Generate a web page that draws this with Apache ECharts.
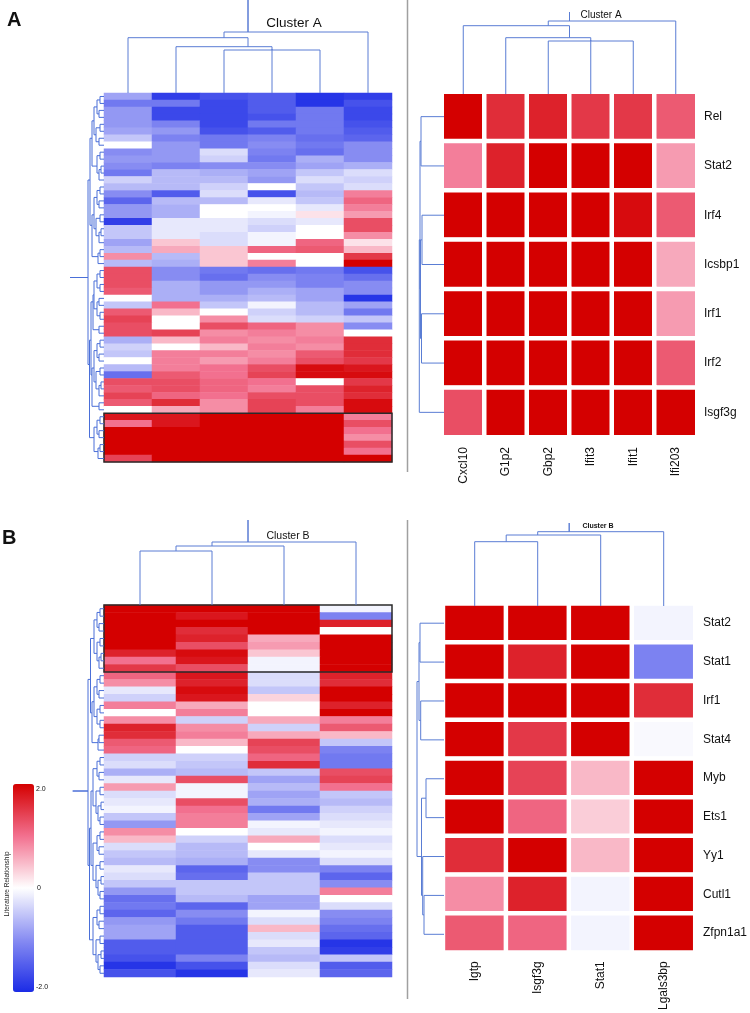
<!DOCTYPE html>
<html><head><meta charset="utf-8">
<script src="https://cdn.jsdelivr.net/npm/echarts@6/dist/echarts.min.js"></script>
<style>html,body{margin:0;padding:0;background:#fff}#c{width:750px;height:1013px}</style>
</head><body><div id="c"></div>
<script>
// ---------- DATA ----------
const aRightCols = ['Cxcl10','G1p2','Gbp2','Ifit3','Ifit1','Ifi203'];
const aRightRows = ['Rel','Stat2','Irf4','Icsbp1','Irf1','Irf2','Isgf3g'];
const aRightValues = [
  [2.0,1.6,1.7,1.5,1.5,1.2],
  [0.9,1.7,2,2,2,0.7],
  [2,2,2,2,1.9,1.2],
  [2,2,2,2,2,0.6],
  [2,2,2,2,2,0.7],
  [2,2,2,2,2,1.2],
  [1.3,2,2,2,2,2]
];
const bRightCols = ['Igtp','Isgf3g','Stat1','Lgals3bp'];
const bRightRows = ['Stat2','Stat1','Irf1','Stat4','Myb','Ets1','Yy1','Cutl1','Zfpn1a1'];
const bRightValues = [
  [2,2,2,-0.1],
  [2,1.7,2,-1.1],
  [2,2,2,1.6],
  [2,1.5,2,-0.05],
  [2,1.4,0.5,2],
  [2,1.1,0.35,2],
  [1.6,2,0.5,2],
  [0.8,1.7,-0.1,2],
  [1.2,1.1,-0.1,2]
];
const aLeftValues = [
  [-0.8,-1.8,-1.6,-1.5,-1.9,-1.8],[-1.2,-1.2,-1.7,-1.5,-1.9,-1.6],[-0.9,-1.7,-1.7,-1.5,-1.2,-1.7],
  [-0.9,-1.7,-1.7,-1.6,-1.2,-1.7],[-0.9,-1.1,-1.7,-1.2,-1.2,-1.6],[-0.8,-0.9,-1.6,-1.5,-1.2,-1.5],
  [-0.5,-1.1,-1.2,-1.1,-1.3,-1.4],[0,-0.9,-1.2,-1.0,-1.2,-1.0],[-1.0,-0.9,-0.3,-1.1,-1.3,-1.0],
  [-0.9,-0.9,-0.4,-1.2,-0.7,-1.0],[-1.0,-1.1,-1.0,-1.0,-0.8,-0.7],[-1.2,-0.6,-0.7,-0.8,-0.5,-0.3],
  [-0.4,-0.6,-0.6,-0.9,-0.3,-0.4],[-0.6,-0.6,-0.4,0,-0.5,-0.3],[-1.0,-1.5,-0.3,-1.6,-0.6,0.9],
  [-1.4,-0.6,-0.6,-0.2,-0.5,1.1],[-0.9,-0.7,0,0,-0.2,0.9],[-0.9,-0.7,0,-0.1,0.2,0.7],
  [-1.8,-0.2,-0.2,-0.3,-0.2,1.3],[-0.5,-0.2,-0.2,-0.4,0,1.3],[-0.5,-0.2,-0.3,-0.1,0,0.8],
  [-0.8,0.4,-0.3,-0.1,1.1,0.2],[-0.6,0.6,0.4,1.1,1.2,0.5],[0.8,-0.6,0.4,0,0,1.5],
  [-0.6,-0.7,0.4,0.9,0,2.0],[1.3,-1.0,-1.2,-1.3,-1.2,-1.6],[1.3,-1.0,-1.3,-1.0,-1.1,-1.3],
  [1.3,-0.7,-0.9,-0.9,-1.1,-1.0],[1.2,-0.7,-0.9,-0.7,-0.8,-1.0],[0,-0.7,-0.7,-0.6,-0.8,-1.9],
  [-0.5,1.0,-0.5,-0.1,-0.6,-0.8],[1.2,0.5,0,-0.4,-0.6,-1.2],[1.4,0,0.8,-0.3,-0.4,-0.5],
  [1.3,0,1.3,1.1,0.8,-1.0],[1.3,1.4,0.8,0.9,0.8,0],[-0.7,0.5,0.9,0.8,0.9,1.6],
  [-0.4,0,0.5,0.9,0.8,1.6],[-0.5,0.9,0.9,0.8,1.2,1.6],[0,0.9,0.7,0.9,1.3,1.5],
  [-0.6,0.9,1.0,1.3,1.9,1.8],[-1.3,1.2,1.0,1.4,1.9,1.9],[1.3,1.3,1.1,1.0,0,1.5],
  [1.2,1.3,1.1,0.9,1.3,1.7],[1.4,1.1,1.0,1.3,1.3,1.6],[1.2,1.6,0.8,1.4,1.3,1.9],
  [0,0.6,0.8,1.4,0.9,1.9],[1.8,1.8,2,2,2,0.9],[1.0,1.8,2,2,2,1.3],
  [2,2,2,2,2,1.0],[2,2,2,2,2,0.8],[2,2,2,2,2,1.3],[2,2,2,2,2,1.0],[1.4,2,2,2,2,2]
];
const bLeftValues = [
  [2,2,2,-0.1],[2,1.8,2,-1.1],[2,2,2,1.7],[2,1.6,2,0],[2,1.7,0.6,2],[2,1.3,0.7,2],
  [1.7,1.9,0.4,2],[1.0,1.8,-0.1,2],[1.5,1.3,-0.1,2],[1.1,1.8,-0.3,1.7],[0.8,1.7,-0.3,1.6],
  [-0.2,1.9,-0.5,2],[-0.4,1.8,0.3,2],[0.9,0.6,0,1.7],[0,0.9,0,2],[0.8,-0.4,0.6,0.9],
  [1.7,0.8,-0.4,1.2],[1.6,0.9,0.6,0.5],[1.2,0.5,1.4,-0.5],[1.1,0,1.3,-1.1],
  [-0.4,-0.4,1.1,-1.2],[-0.3,-0.5,1.6,-1.2],[-0.7,-0.6,-0.5,1.3],[-0.2,1.3,-0.8,1.4],
  [0.7,-0.1,-0.6,1.0],[-0.3,-0.1,-0.8,-0.5],[-0.2,1.3,-0.7,-0.6],[-0.1,1.0,-1.2,-0.4],
  [-0.5,0.9,-0.8,-0.3],[-0.9,0.9,-0.1,-0.2],[0.8,0,-0.2,-0.1],[0.5,-0.4,0.6,-0.3],
  [-0.3,-0.6,0,-0.2],[-0.5,-0.6,-0.2,-0.1],[-0.6,-0.7,-1.0,-0.3],[-0.2,-1.4,-1.0,-1.1],
  [-0.3,-1.3,-0.5,-1.4],[-0.5,-0.5,-0.5,-1.0],[-0.9,-0.5,-0.5,0.9],[-1.3,-0.6,-0.8,0],
  [-1.2,-1.4,-0.8,-0.3],[-1.4,-1.0,-0.1,-1.0],[-0.9,-1.2,-0.3,-1.1],[-0.8,-1.5,0.5,-1.3],
  [-0.8,-1.5,-0.3,-1.4],[-1.5,-1.5,-0.2,-1.9],[-1.5,-1.5,-0.5,-1.8],[-1.6,-1.1,-0.6,-0.5],
  [-1.9,-1.6,-0.3,-1.5],[-1.6,-1.9,-0.2,-1.4]
];
// highlighted row blocks [firstCol, firstRow, lastCol, lastRow]
const aBox = [0,46,5,52];
const bBox = [0,0,3,8];
// dendrograms: [left, right, mergeHeight]; heights in pixels from the heatmap edge
const aLeftColTree = [[0,[1,[3,[2,4,43],44],46.3],55.3],5,61];
const aRightColTree = [[0,[1,[3,[2,4,53],54],56.3],68.3],5,73];
const bLeftColTree = [[[0,1,54],2,59],3,63];
const bRightColTree = [[[0,1,64.3],2,71],3,74.3];
const aRightRowTree = [[[0,1,23],[[2,3,22],[4,5,22.5],23.5],24],6,24.7];
const bRightRowTree = [[[0,1,24],[2,3,23.3],25],[[4,5,18],[6,[7,8,20],21.3],22.5],27];
const A_G1 = [[[[0,1,4],[2,3,5],7],[[4,5,4],[6,7,5],8],10],[[8,9,4],[[10,11,3],12,5],7],12];
const A_G2 = [[[[13,14,4],[15,16,5],7],[[17,18,4],[[19,20,3],21,5],8],10],[[22,23,4],24,6],12];
const A_G3 = [[[[25,26,4],[27,28,4],7],[[29,30,5],[31,32,4],7],10],[33,34,5],11];
const A_G4 = [[[[35,36,4],[37,38,5],7],[[39,40,4],[[41,42,3],43,5],8],10],[44,45,5],12];
const A_G5 = [[[46,47,4],[48,49,5],7],[[50,51,4],52,6],10];
const aLeftRowTree = [[A_G1,A_G2,14],[[A_G3,A_G4,13],A_G5,14.5],16];
const B_H1 = [[[0,1,4],[2,3,5],7],[[4,5,4],[[6,7,3],8,5],7],10];
const B_H2 = [[[[9,10,4],[11,12,5],7],[[13,14,4],[15,16,4],7],10],[[17,18,5],19,6],12];
const B_H3 = [[[20,21,4],[22,23,5],7],[[24,25,4],[[26,27,3],[28,29,4],6],8],11];
const B_H4 = [[[30,31,4],[32,33,5],7],[[34,35,4],[[36,37,3],[38,39,4],6],8],11];
const B_H5 = [[[40,41,4],[42,43,5],7],[[44,45,4],[[46,47,3],[48,49,4],6],8],11];
const bLeftRowTree = [[B_H1,B_H2,13.5],[[B_H3,B_H4,13],B_H5,14.5],16];

// ---------- BUILD ----------
function toCells(m){const d=[];m.forEach((r,y)=>r.forEach((v,x)=>d.push([x,y,v])));return d;}
function idx(n){return Array.from({length:n},(_,i)=>String(i));}
function layoutTree(t, stub){
  const segs=[];
  function walk(n){
    if(typeof n==='number') return {s:n,c:1,h:0,p:n};
    const a=walk(n[0]), b=walk(n[1]);
    segs.push([a.p,a.h,n[2],b.p,b.h]);
    const s=a.s+b.s, c=a.c+b.c;
    return {s,c,h:n[2],p:s/c};
  }
  const r=walk(t);
  segs.push([r.p,r.h,stub,r.p,r.h]);
  return segs;
}
const DCOL='#5a7dd4';
function dendro(orient, color){
  return function(params, api){
    const ap=api.value(0), ah=api.value(1), nh=api.value(2), bp=api.value(3), bh=api.value(4);
    const pt = orient==='top' ? (p,h)=>api.coord([p,h]) : (p,h)=>api.coord([h,p]);
    return {type:'polyline', shape:{points:[pt(ap,ah),pt(ap,nh),pt(bp,nh),pt(bp,bh)]},
      style:{stroke:color, lineWidth:1, fill:null}};
  };
}
function boxRender(params, api){
  const p0=api.coord([api.value(0),api.value(1)]), p1=api.coord([api.value(2),api.value(3)]);
  const s=api.size([1,1]);
  return {type:'rect', shape:{x:p0[0]-s[0]/2, y:p0[1]-s[1]/2, width:p1[0]-p0[0]+s[0], height:p1[1]-p0[1]+s[1]},
    style:{fill:null, stroke:'#2a2a2a', lineWidth:1.5}};
}
const FONT='Liberation Sans, Arial, sans-serif';
const hidden={show:false};
function catAxis(gi, data, extra){
  return Object.assign({type:'category', gridIndex:gi, data, axisLine:hidden, axisTick:hidden,
    axisLabel:{show:false}, splitLine:hidden, splitArea:hidden}, extra||{});
}
function valAxis(gi, min, max, inverse){
  return {type:'value', gridIndex:gi, min, max, inverse:!!inverse, show:false, splitLine:hidden};
}
const grids=[
  {left:104, top:93, width:288, height:369},      //0 A left heat
  {left:442, top:92, width:255, height:345},      //1 A right heat
  {left:104, top:605, width:288, height:372},     //2 B left heat
  {left:443.2, top:603.75, width:252, height:350},//3 B right heat
  {left:104, top:0, width:288, height:93},        //4 A left col dendro
  {left:442, top:0, width:255, height:94},        //5 A right col dendro
  {left:104, top:505, width:288, height:100},     //6 B left col dendro
  {left:443.2, top:506, width:252, height:100},   //7 B right col dendro
  {left:60, top:93, width:44, height:369},        //8 A left row dendro
  {left:410, top:92, width:34, height:345},       //9 A right row dendro
  {left:60, top:605, width:44, height:372},       //10 B left row dendro
  {left:410, top:603.75, width:34, height:350}    //11 B right row dendro
];
const labStyle={fontFamily:FONT, fontSize:12, color:'#111'};
const xAxis=[
  catAxis(0, idx(6)),
  catAxis(1, aRightCols, {axisLabel:Object.assign({show:true, rotate:90, margin:10, interval:0}, labStyle)}),
  catAxis(2, idx(4)),
  catAxis(3, bRightCols, {axisLabel:Object.assign({show:true, rotate:90, margin:9, interval:0}, labStyle)}),
  valAxis(4,-0.5,5.5), valAxis(5,-0.5,5.5), valAxis(6,-0.5,3.5), valAxis(7,-0.5,3.5),
  valAxis(8,0,44,true), valAxis(9,0,34,true), valAxis(10,0,44,true), valAxis(11,0,34,true)
];
const yAxis=[
  catAxis(0, idx(aLeftValues.length), {inverse:true}),
  catAxis(1, aRightRows, {inverse:true, position:'right', axisLabel:Object.assign({show:true, margin:7, interval:0}, labStyle)}),
  catAxis(2, idx(bLeftValues.length), {inverse:true}),
  catAxis(3, bRightRows, {inverse:true, position:'right', axisLabel:Object.assign({show:true, margin:8, interval:0}, labStyle)}),
  valAxis(4,0,93), valAxis(5,0,94), valAxis(6,0,100), valAxis(7,0,100),
  valAxis(8,-0.5,aLeftValues.length-0.5,true), valAxis(9,-0.5,6.5,true),
  valAxis(10,-0.5,bLeftValues.length-0.5,true), valAxis(11,-0.5,8.5,true)
];
function heat(i, m, bw){
  return {type:'heatmap', xAxisIndex:i, yAxisIndex:i, data:toCells(m), progressive:0,
    itemStyle: bw ? {borderColor:'#fff', borderWidth:bw} : {borderWidth:0},
    emphasis:{disabled:true}, silent:true};
}
function dseries(i, tree, stub, orient, color){
  return {type:'custom', xAxisIndex:i, yAxisIndex:i, data:layoutTree(tree, stub), clip:false, silent:true,
    renderItem:dendro(orient, color||DCOL)};
}
const series=[
  heat(0, aLeftValues, 0), heat(1, aRightValues, 4.5), heat(2, bLeftValues, 0), heat(3, bRightValues, 4.5),
  {type:'custom', xAxisIndex:0, yAxisIndex:0, data:[aBox], renderItem:boxRender, silent:true, clip:false},
  {type:'custom', xAxisIndex:2, yAxisIndex:2, data:[bBox], renderItem:boxRender, silent:true, clip:false},
  dseries(4, aLeftColTree, 93, 'top'),
  dseries(5, aRightColTree, 82, 'top'),
  dseries(6, bLeftColTree, 85, 'top'),
  dseries(7, bRightColTree, 83, 'top'),
  dseries(8, aLeftRowTree, 34, 'left', '#4a6fd8'),
  dseries(9, aRightRowTree, 24.7, 'left'),
  dseries(10, bLeftRowTree, 31.3, 'left', '#4a6fd8'),
  dseries(11, bRightRowTree, 27, 'left')
];
const txt=(x,y,t,size,opts)=>({type:'text', x, y, style:Object.assign({text:t, fontFamily:FONT, fontSize:size, fill:'#111'}, (opts||{}))});
const option={
  animation:false,
  backgroundColor:'#fff',
  grid:grids,
  xAxis, yAxis,
  visualMap:{type:'continuous', min:-2, max:2, seriesIndex:[0,1,2,3], calculable:false, show:true,
    left:13, top:784, itemWidth:21, itemHeight:208, padding:0, hoverLink:false,
    inRange:{color:['#1b2be6','#878cf2','#ffffff','#f2708f','#d40000']}},
  graphic:[
    {type:'line', shape:{x1:407.5,y1:0,x2:407.5,y2:472}, style:{stroke:'#a0a0a0', lineWidth:1.5}},
    {type:'line', shape:{x1:407.5,y1:520,x2:407.5,y2:999}, style:{stroke:'#a0a0a0', lineWidth:1.5}},
    txt(7,10,'A',20,{fontWeight:'bold'}),
    txt(2,528,'B',20,{fontWeight:'bold'}),
    txt(294,16,'Cluster A',13.5,{textAlign:'center'}),
    txt(601,10,'Cluster A',10,{textAlign:'center'}),
    txt(288,531,'Cluster B',10.5,{textAlign:'center'}),
    txt(598,523,'Cluster B',7,{textAlign:'center', fontWeight:'bold'}),
    txt(36,786,'2.0',7),
    txt(37,885,'0',7),
    txt(36,984,'-2.0',7),
    {type:'text', x:4, y:884, rotation:Math.PI/2, style:{text:'Literature Relationship', fontFamily:FONT, fontSize:6.5, fill:'#222', textAlign:'center', textVerticalAlign:'top'}}
  ],
  series
};
const chart=echarts.init(document.getElementById('c'), null, {renderer:'canvas'});
chart.setOption(option);
</script>
</body></html>
